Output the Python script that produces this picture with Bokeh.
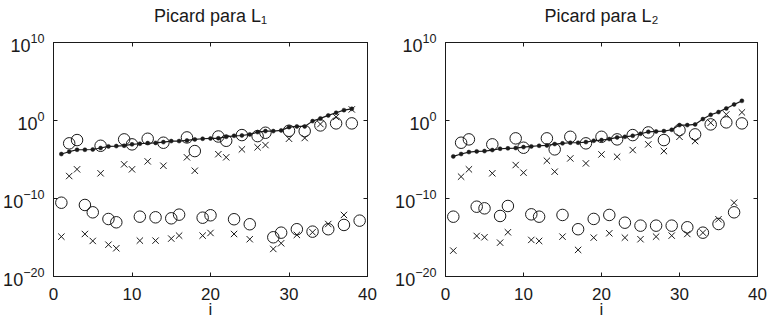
from bokeh.plotting import figure
from bokeh.layouts import row
from bokeh.models import (ColumnDataSource, FixedTicker, LogAxis, LinearAxis,
                          LogTickFormatter, CustomJSTickFormatter, Range1d)
from bokeh.embed import file_html
from bokeh.resources import INLINE

# Picard plots: singular values (line with dots), Fourier coefficients |u_i^T b| (x)
# and solution coefficients |u_i^T b| / sigma_i (o). Values stored as log10 exponents.

titles = ["Picard para L\u2081", "Picard para L\u2082"]

# --- L1 ---
sigma_i_L1 = list(range(1, 39))
sigma_exp_L1 = [-4.3, -4.0, -3.75, -3.75, -3.72, -3.53, -3.32, -3.28, -3.23, -3.06,
                -2.98, -2.9, -2.87, -2.77, -2.64, -2.64, -2.56, -2.42, -2.34, -2.3,
                -2.28, -2.09, -1.96, -1.92, -1.78, -1.49, -1.36, -1.36, -1.27, -0.85,
                -0.76, -0.76, -0.08, 0.27, 0.65, 0.99, 1.33, 1.5]
coef_i_L1 = list(range(1, 39))
coef_exp_L1 = [-14.89, -7.12, -6.26, -14.55, -15.44, -6.77, -15.92, -16.38, -5.62, -6.26,
               -15.4, -5.24, -15.4, -5.8, -15.14, -14.76, -4.72, -6.44, -14.76, -14.42,
               -4.32, -4.72, -14.55, -3.7, -15.22, -3.44, -3.15, -16.47, -15.74, -2.34,
               -14.67, -2.25, -14.33, -0.46, -13.27, 0.45, -12.11, 1.42]
sol_i_L1 = list(range(1, 40))
sol_exp_L1 = [-10.54, -2.93, -2.51, -10.83, -11.77, -3.24, -12.63, -13.05, -2.42, -3.06,
              -12.33, -2.34, -12.41, -2.85, -12.54, -12.07, -2.17, -3.92, -12.46, -12.15,
              -2.05, -2.6, -12.66, -1.87, -13.3, -2.0, -1.57, -14.97, -14.38, -1.32,
              -13.94, -1.36, -14.25, -0.63, -13.94, -0.37, -13.39, -0.37, -12.84]

# --- L2 ---
sigma_i_L2 = list(range(1, 39))
sigma_exp_L2 = [-4.6, -4.3, -4.05, -3.96, -3.92, -3.79, -3.62, -3.57, -3.53, -3.41,
                -3.32, -3.24, -3.2, -3.02, -2.93, -2.85, -2.85, -2.77, -2.6, -2.51,
                -2.38, -2.17, -2.09, -1.96, -1.7, -1.45, -1.4, -1.36, -1.19, -0.59,
                -0.59, -0.5, 0.18, 0.73, 1.08, 1.55, 2.06, 2.52]
coef_i_L2 = list(range(1, 39))
coef_exp_L2 = [-16.68, -7.2, -6.26, -14.8, -14.97, -6.77, -15.66, -14.33, -5.71, -6.69,
               -15.31, -15.44, -5.16, -6.56, -14.89, -4.86, -16.59, -5.5, -15.02, -4.35,
               -14.46, -4.65, -15.02, -3.79, -15.22, -3.06, -14.89, -3.92, -14.76, -2.09,
               -14.55, -2.64, -14.38, -0.29, -12.66, 0.78, -10.54, 1.04]
sol_i_L2 = list(range(1, 39))
sol_exp_L2 = [-12.33, -2.85, -2.42, -11.05, -11.26, -3.06, -12.24, -10.96, -2.29, -3.49,
              -12.03, -12.33, -2.29, -3.7, -12.11, -2.09, -13.94, -2.93, -12.62, -2.09,
              -12.11, -2.42, -13.1, -1.87, -13.48, -1.53, -13.48, -2.51, -13.48, -1.23,
              -13.69, -1.78, -14.38, -0.5, -13.27, -0.24, -11.77, -0.37]

x_ticks = [0, 10, 20, 30, 40]
y_ticks = [1e-20, 1e-10, 1e0, 1e10]

FONT = "Liberation Sans"
INK = "#1a1a1a"


def pow10(exps):
    return [10.0 ** e for e in exps]


def picard_panel(title, sig_i, sig_e, cf_i, cf_e, so_i, so_e, border_left, frame_w, border_right):
    p = figure(width=border_left + frame_w + border_right, height=325,
               frame_width=frame_w, frame_height=234,
               min_border_left=border_left, min_border_right=border_right,
               min_border_top=42, min_border_bottom=49,
               x_range=Range1d(0, 40), y_range=Range1d(1e-20, 1e10),
               y_axis_type="log", output_backend="svg", toolbar_location=None,
               title=title)
    p.title.text_font = FONT
    p.title.text_font_size = "18px"
    p.title.text_font_style = "normal"
    p.title.align = "center"
    p.title.text_color = INK
    p.title.standoff = 0

    p.grid.visible = False
    p.background_fill_color = "white"
    p.border_fill_color = "white"
    p.outline_line_color = INK
    p.outline_line_width = 1

    for ax in p.xaxis:
        ax.ticker = FixedTicker(ticks=x_ticks)
        ax.axis_label = "i"
    for ax in p.yaxis:
        ax.ticker = FixedTicker(ticks=y_ticks)
        ax.formatter = LogTickFormatter()

    blank = CustomJSTickFormatter(code="return ''")
    # top axis: ticks only; its blank label keeps a gap between heading and box
    top_axis = LinearAxis(ticker=FixedTicker(ticks=x_ticks), formatter=blank, axis_label=" ")
    right_axis = LogAxis(ticker=FixedTicker(ticks=y_ticks), formatter=blank)
    p.add_layout(top_axis, "above")
    p.add_layout(right_axis, "right")

    for ax in p.axis:
        ax.major_tick_in = 4
        ax.major_tick_out = 0
        ax.minor_tick_line_color = None
        ax.axis_line_color = INK
        ax.major_tick_line_color = INK
        ax.major_label_text_font = FONT
        ax.major_label_text_font_size = "17px"
        ax.major_label_text_color = INK
        ax.axis_label_text_font = FONT
        ax.axis_label_text_font_size = "17px"
        ax.axis_label_text_font_style = "normal"
        ax.axis_label_text_color = INK
    for ax in (top_axis, right_axis):
        ax.major_label_standoff = 0
        ax.major_label_text_font_size = "0px"
    top_axis.axis_label_standoff = 0
    top_axis.axis_label_text_font_size = "16px"
    for ax in p.xaxis:
        ax.major_label_standoff = 11
        ax.axis_label_standoff = -3
    for ax in p.yaxis:
        ax.major_label_text_font_size = "18px"
        ax.major_label_standoff = 9

    sig = ColumnDataSource(dict(i=sig_i, v=pow10(sig_e)))
    cf = ColumnDataSource(dict(i=cf_i, v=pow10(cf_e)))
    so = ColumnDataSource(dict(i=so_i, v=pow10(so_e)))

    p.line("i", "v", source=sig, line_color=INK, line_width=1.2)
    p.scatter("i", "v", source=sig, marker="circle", size=4,
              fill_color=INK, line_color=INK, line_width=0.5)
    p.scatter("i", "v", source=cf, marker="x", size=9,
              line_color=INK, line_width=1.0)
    p.scatter("i", "v", source=so, marker="circle", size=11.5,
              fill_color=None, line_color=INK, line_width=1.0)
    return p


p1 = picard_panel(titles[0], sigma_i_L1, sigma_exp_L1, coef_i_L1, coef_exp_L1,
                  sol_i_L1, sol_exp_L1, 52, 314, 20)
p2 = picard_panel(titles[1], sigma_i_L2, sigma_exp_L2, coef_i_L2, coef_exp_L2,
                  sol_i_L2, sol_exp_L2, 58, 312, 17)

layout = row(p1, p2)
open("out.html", "w").write(file_html(layout, INLINE))
